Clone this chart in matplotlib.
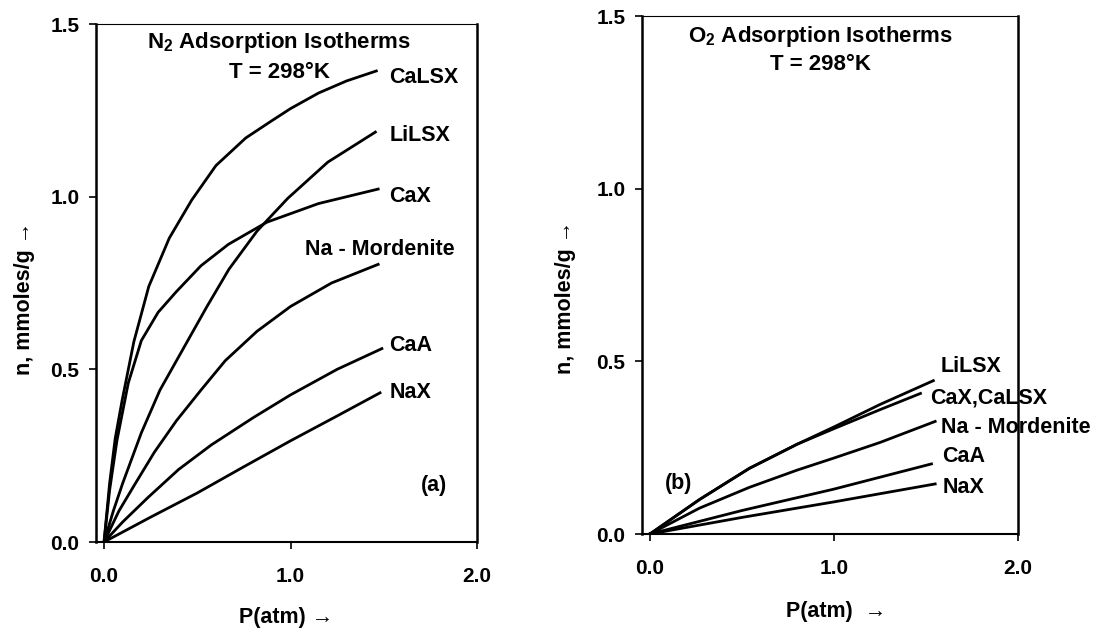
import matplotlib
matplotlib.use("Agg")
import matplotlib.pyplot as plt

plt.rcParams['font.family'] = ['Liberation Sans', 'DejaVu Sans']
plt.rcParams['font.weight'] = 'bold'
plt.rcParams['mathtext.fontset'] = 'custom'
plt.rcParams['mathtext.rm'] = 'Liberation Sans:bold'
plt.rcParams['mathtext.bf'] = 'Liberation Sans:bold'

# (a) N2 isotherms, P in atm, n in mmoles/g
n2_calsx_x = [0, 0.03, 0.06, 0.097, 0.16, 0.24, 0.35, 0.47, 0.6, 0.76, 0.9, 1.0, 1.15, 1.3, 1.46]
n2_calsx_y = [0, 0.17, 0.3, 0.41, 0.58, 0.74, 0.88, 0.99, 1.09, 1.17, 1.22, 1.255, 1.3, 1.335, 1.364]
n2_lilsx_x = [0, 0.05, 0.1, 0.2, 0.3, 0.425, 0.55, 0.67, 0.82, 0.985, 1.2, 1.455]
n2_lilsx_y = [0, 0.09, 0.17, 0.316, 0.44, 0.56, 0.68, 0.79, 0.9, 0.995, 1.1, 1.187]
n2_cax_x = [0, 0.03, 0.069, 0.13, 0.2, 0.29, 0.388, 0.52, 0.667, 0.873, 1.15, 1.47]
n2_cax_y = [0, 0.15, 0.293, 0.46, 0.583, 0.665, 0.725, 0.8, 0.862, 0.926, 0.98, 1.022]
n2_nam_x = [0, 0.08, 0.163, 0.27, 0.388, 0.52, 0.65, 0.82, 1.0, 1.22, 1.47]
n2_nam_y = [0, 0.09, 0.165, 0.26, 0.351, 0.44, 0.525, 0.61, 0.682, 0.75, 0.804]
n2_caa_x = [0, 0.1, 0.238, 0.4, 0.575, 0.8, 1.0, 1.25, 1.49]
n2_caa_y = [0, 0.058, 0.13, 0.21, 0.281, 0.36, 0.426, 0.5, 0.56]
n2_nax_x = [0, 0.25, 0.5, 0.75, 1.0, 1.25, 1.48]
n2_nax_y = [0, 0.072, 0.142, 0.218, 0.293, 0.365, 0.432]

# (b) O2 isotherms
o2_lilsx_x = [0, 0.27, 0.54, 0.8, 1.0, 1.25, 1.54]
o2_lilsx_y = [0, 0.1, 0.19, 0.26, 0.31, 0.375, 0.444]
o2_cax_x = [0, 0.27, 0.54, 0.8, 1.0, 1.25, 1.47]
o2_cax_y = [0, 0.1, 0.19, 0.26, 0.305, 0.36, 0.407]
o2_nam_x = [0, 0.27, 0.54, 0.8, 1.0, 1.25, 1.55]
o2_nam_y = [0, 0.075, 0.135, 0.185, 0.22, 0.265, 0.326]
o2_caa_x = [0, 0.5, 1.0, 1.53]
o2_caa_y = [0, 0.068, 0.13, 0.203]
o2_nax_x = [0, 0.5, 1.0, 1.55]
o2_nax_y = [0, 0.048, 0.093, 0.145]

n2_labels = ["CaLSX", "LiLSX", "CaX", "Na - Mordenite", "CaA", "NaX"]
n2_label_pos = [(1.53, 1.344), (1.53, 1.178), (1.53, 1.0), (1.08, 0.848), (1.53, 0.569), (1.53, 0.432)]
o2_labels = ["LiLSX", "CaX,CaLSX", "Na - Mordenite", "CaA", "NaX"]
o2_label_pos = [(1.58, 0.485), (1.52, 0.395), (1.58, 0.308), (1.59, 0.225), (1.59, 0.134)]

x_ticks = [0.0, 1.0, 2.0]
y_ticks = [0.0, 0.5, 1.0, 1.5]

FS = 15.5


def style_axes(ax, xlabel):
    ax.set_xlim(-0.043, 2.0)
    ax.set_ylim(0, 1.5)
    ax.set_xticks(x_ticks)
    ax.set_yticks(y_ticks)
    ax.set_xticklabels(["%.1f" % t for t in x_ticks])
    ax.set_yticklabels(["%.1f" % t for t in y_ticks])
    ax.tick_params(direction='out', length=5, width=1.2, labelsize=15)
    ax.tick_params(axis='x', pad=13)
    ax.tick_params(axis='y', pad=7)
    ax.spines['top'].set_linewidth(0.8)
    ax.spines['bottom'].set_linewidth(1.5)
    ax.spines['left'].set_linewidth(1.8)
    ax.spines['right'].set_linewidth(1.8)
    ax.set_xlabel(xlabel, fontsize=FS, fontweight='bold')
    ax.set_ylabel("n, mmoles/g \u2192", fontsize=FS, fontweight='bold')


fig = plt.figure(figsize=(10.99, 6.32), dpi=100)

ax1 = fig.add_axes([96 / 1099, 90 / 632, 381 / 1099, 518 / 632])
for xs, ys in [(n2_calsx_x, n2_calsx_y), (n2_lilsx_x, n2_lilsx_y), (n2_cax_x, n2_cax_y),
               (n2_nam_x, n2_nam_y), (n2_caa_x, n2_caa_y), (n2_nax_x, n2_nax_y)]:
    ax1.plot(xs, ys, color="black", lw=2.0)
for name, (lx, ly) in zip(n2_labels, n2_label_pos):
    ax1.text(lx, ly, name, ha='left', va='center', fontsize=FS, fontweight='bold')
ax1.text(0.94, 1.445, r"N$_{2}$ Adsorption Isotherms", ha='center', va='center', fontsize=16, fontweight='bold')
ax1.text(0.94, 1.36, "T = 298\u00b0K", ha='center', va='center', fontsize=16, fontweight='bold')
ax1.text(1.77, 0.163, "(a)", ha='center', va='center', fontsize=FS, fontweight='bold')
style_axes(ax1, "P(atm) \u2192")
ax1.xaxis.set_label_coords(0.5, -0.125)
ax1.yaxis.set_label_coords(-0.16, 0.47)

ax2 = fig.add_axes([642 / 1099, 98 / 632, 376 / 1099, 518 / 632])
for xs, ys in [(o2_lilsx_x, o2_lilsx_y), (o2_cax_x, o2_cax_y), (o2_nam_x, o2_nam_y),
               (o2_caa_x, o2_caa_y), (o2_nax_x, o2_nax_y)]:
    ax2.plot(xs, ys, color="black", lw=2.0)
for name, (lx, ly) in zip(o2_labels, o2_label_pos):
    ax2.text(lx, ly, name, ha='left', va='center', fontsize=FS, fontweight='bold')
ax2.text(0.926, 1.442, r"O$_{2}$ Adsorption Isotherms", ha='center', va='center', fontsize=16, fontweight='bold')
ax2.text(0.926, 1.36, "T = 298\u00b0K", ha='center', va='center', fontsize=16, fontweight='bold')
ax2.text(0.158, 0.145, "(b)", ha='center', va='center', fontsize=FS, fontweight='bold')
style_axes(ax2, "P(atm)  \u2192")
ax2.xaxis.set_label_coords(0.515, -0.13)
ax2.yaxis.set_label_coords(-0.175, 0.457)

fig.savefig("out.png", dpi=100)
